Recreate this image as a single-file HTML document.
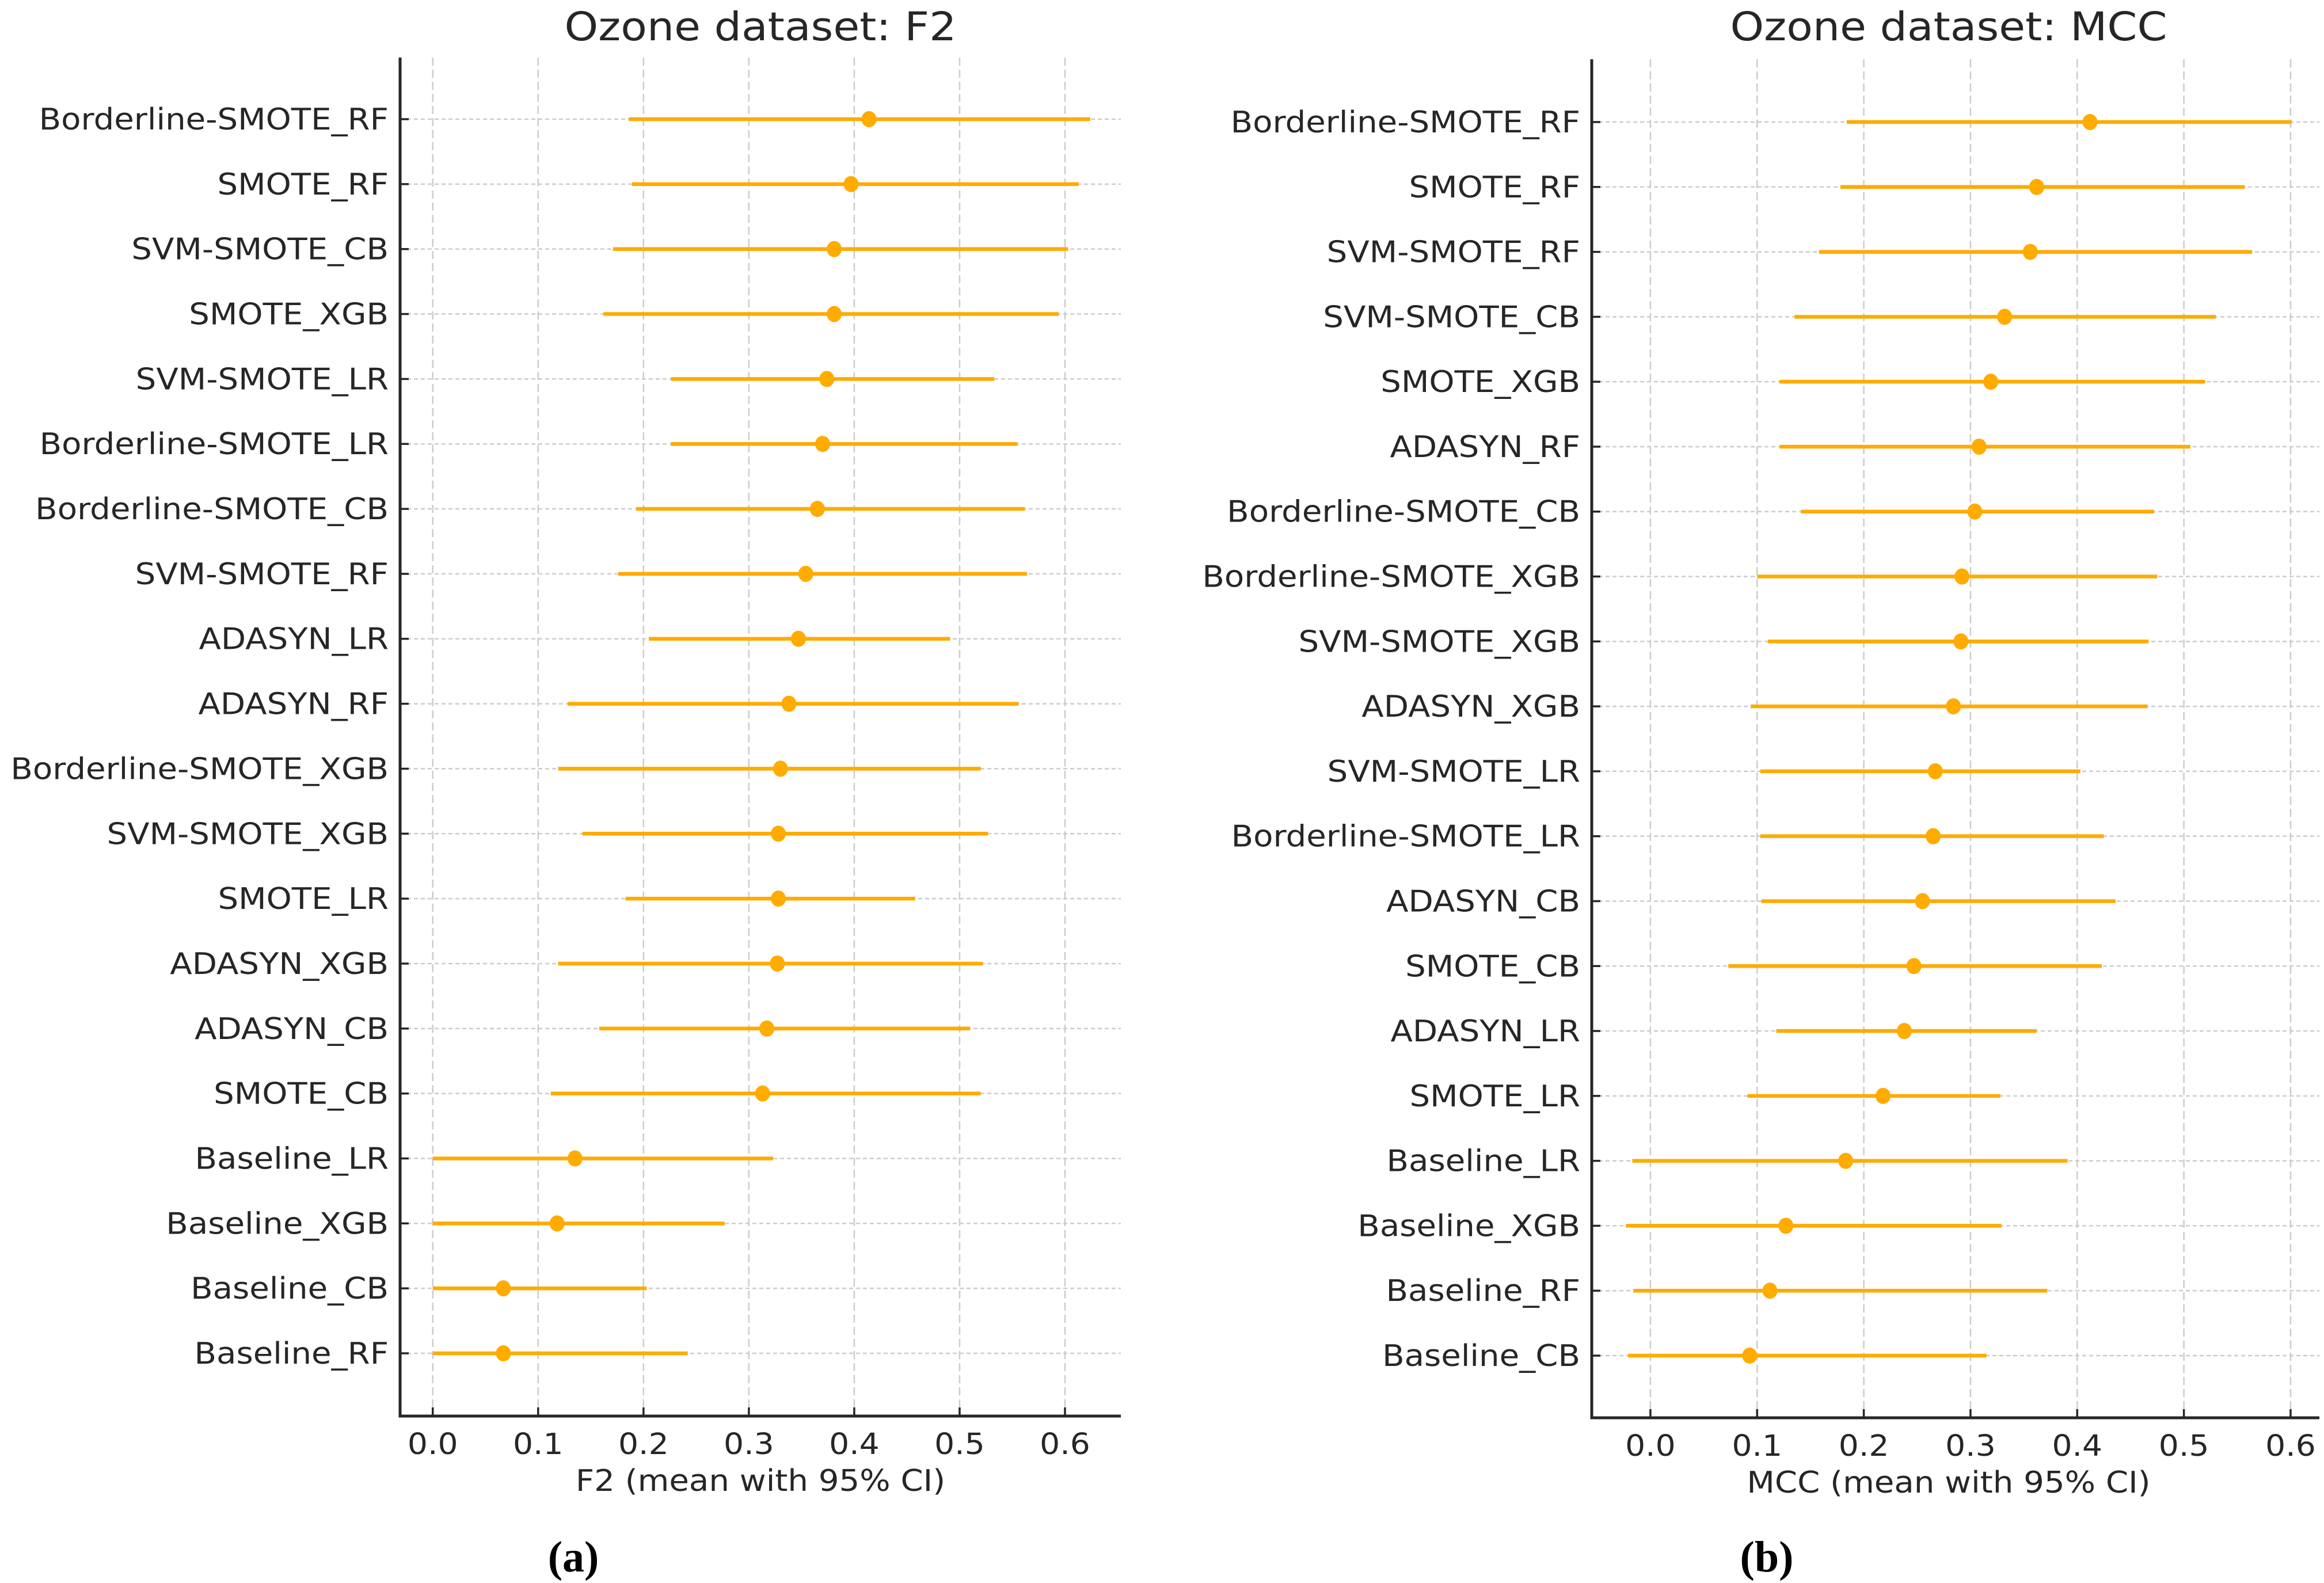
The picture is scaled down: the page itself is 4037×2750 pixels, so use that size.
<!DOCTYPE html>
<html><head><meta charset="utf-8"><style>
html,body{margin:0;padding:0;background:#fff}
svg{display:block}
text{font-family:"DejaVu Sans","Liberation Sans",sans-serif;fill:#262626}
</style></head><body>
<svg id="fig" width="4037" height="2750" viewBox="0 0 4037 2750" xmlns="http://www.w3.org/2000/svg">
<g id="panelA"></g>
<g id="panelB"></g>
<text x="996" y="2730" text-anchor="middle" font-size="76" font-weight="bold" style="font-family:'Liberation Serif',serif;fill:#000">(a)</text>
<text x="3069" y="2730" text-anchor="middle" font-size="76" font-weight="bold" style="font-family:'Liberation Serif',serif;fill:#000">(b)</text>
</svg>
<script>
const f2Labels = ["Borderline-SMOTE_RF","SMOTE_RF","SVM-SMOTE_CB","SMOTE_XGB","SVM-SMOTE_LR","Borderline-SMOTE_LR","Borderline-SMOTE_CB","SVM-SMOTE_RF","ADASYN_LR","ADASYN_RF","Borderline-SMOTE_XGB","SVM-SMOTE_XGB","SMOTE_LR","ADASYN_XGB","ADASYN_CB","SMOTE_CB","Baseline_LR","Baseline_XGB","Baseline_CB","Baseline_RF"];
const f2Mean = [0.414,0.397,0.381,0.381,0.374,0.370,0.365,0.354,0.347,0.338,0.330,0.328,0.328,0.327,0.317,0.313,0.135,0.118,0.067,0.067];
const f2Lo = [0.186,0.189,0.171,0.162,0.226,0.226,0.193,0.176,0.205,0.128,0.119,0.142,0.183,0.119,0.158,0.112,0,0,0,0];
const f2Hi = [0.624,0.613,0.603,0.594,0.533,0.555,0.562,0.564,0.491,0.556,0.520,0.527,0.458,0.522,0.510,0.520,0.323,0.277,0.203,0.242];
const mccLabels = ["Borderline-SMOTE_RF","SMOTE_RF","SVM-SMOTE_RF","SVM-SMOTE_CB","SMOTE_XGB","ADASYN_RF","Borderline-SMOTE_CB","Borderline-SMOTE_XGB","SVM-SMOTE_XGB","ADASYN_XGB","SVM-SMOTE_LR","Borderline-SMOTE_LR","ADASYN_CB","SMOTE_CB","ADASYN_LR","SMOTE_LR","Baseline_LR","Baseline_XGB","Baseline_RF","Baseline_CB"];
const mccMean = [0.412,0.362,0.356,0.332,0.319,0.308,0.304,0.292,0.291,0.284,0.267,0.265,0.255,0.247,0.238,0.218,0.183,0.127,0.112,0.093];
const mccLo = [0.184,0.178,0.158,0.135,0.121,0.121,0.141,0.100,0.110,0.094,0.103,0.103,0.104,0.073,0.118,0.091,-0.017,-0.023,-0.016,-0.021];
const mccHi = [0.601,0.557,0.564,0.530,0.520,0.506,0.472,0.475,0.467,0.466,0.403,0.425,0.436,0.423,0.362,0.328,0.391,0.329,0.372,0.315];
const xTicks = [0,0.1,0.2,0.3,0.4,0.5,0.6];
const xTickLabels = ["0.0","0.1","0.2","0.3","0.4","0.5","0.6"];

const NS="http://www.w3.org/2000/svg";
function mk(parent,tag,attrs,txt){const e=document.createElementNS(NS,tag);for(const k in attrs)e.setAttribute(k,attrs[k]);if(txt!==undefined)e.textContent=txt;parent.appendChild(e);return e;}

function panel(g,cfg,labels,mean,lo,hi){
  const x=v=>cfg.x0+(v-cfg.xmin)/(cfg.xmax-cfg.xmin)*(cfg.x1-cfg.x0);
  const y=i=>cfg.yFirst+i*(cfg.yLast-cfg.yFirst)/(labels.length-1);
  xTicks.forEach((t,i)=>{
    const l=mk(g,'line',{x1:x(t),x2:x(t),y1:cfg.yTop,y2:cfg.yBot,stroke:'#cccccc','stroke-width':2.5,'stroke-dasharray':'14,7'});
    
    
  });
  labels.forEach((lab,i)=>{
    const l=mk(g,'line',{x1:cfg.x0,x2:cfg.x1,y1:y(i),y2:y(i),stroke:'#cccccc','stroke-width':2.5,'stroke-dasharray':'7,5'});
    
    
  });
  labels.forEach((lab,i)=>{
    const l=mk(g,'line',{x1:x(lo[i]),x2:x(hi[i]),y1:y(i),y2:y(i),stroke:'#ffab00','stroke-width':6.5});
    
    
    const c=mk(g,'ellipse',{cx:x(mean[i]),cy:y(i),rx:13,ry:14,fill:'#ffab00'});
    
    
  });
  const sp=mk(g,'path',{d:`M${cfg.x0},${cfg.yTop} L${cfg.x0},${cfg.yBot} L${cfg.x1},${cfg.yBot}`,fill:'none',stroke:'#262626','stroke-width':5});
  
  
  xTicks.forEach((t,i)=>{
    const tk=mk(g,'line',{x1:x(t),x2:x(t),y1:cfg.yBot,y2:cfg.yBot-15,stroke:'#262626','stroke-width':3.5});
    
    
    const tl=mk(g,'text',{x:x(t),y:cfg.yBot+66,'text-anchor':'middle','font-size':51},xTickLabels[i]);
    
    
  });
  labels.forEach((lab,i)=>{
    const tk=mk(g,'line',{x1:cfg.x0,x2:cfg.x0+15,y1:y(i),y2:y(i),stroke:'#262626','stroke-width':3.5});
    
    
    const tl=mk(g,'text',{x:cfg.x0-20,y:y(i)+18,'text-anchor':'end','font-size':52},lab);
    
    
  });
  const xt=mk(g,'text',{x:cfg.titleX,y:cfg.yBot+130,'text-anchor':'middle','font-size':52},cfg.xlabel);
  
  
  const tt=mk(g,'text',{x:cfg.titleX,y:70,'text-anchor':'middle','font-size':69},cfg.title);
  
  
}
panel(document.getElementById('panelA'),{x0:695,x1:1947,xmin:-0.031,xmax:0.653,yTop:100,yBot:2460,yFirst:207,yLast:2351,titleX:1321,xlabel:'F2 (mean with 95% CI)',title:'Ozone dataset: F2'},f2Labels,f2Mean,f2Lo,f2Hi);
panel(document.getElementById('panelB'),{x0:2765,x1:4029,xmin:-0.055,xmax:0.627,yTop:103,yBot:2463,yFirst:212,yLast:2355,titleX:3385,xlabel:'MCC (mean with 95% CI)',title:'Ozone dataset: MCC'},mccLabels,mccMean,mccLo,mccHi);
document.querySelectorAll('#panelA text, #panelB text').forEach(t=>{
  const w=t.getComputedTextLength();
  t.setAttribute('textLength',(w*1.08).toFixed(1));
  t.setAttribute('lengthAdjust','spacingAndGlyphs');
});
</script>
</body></html>
